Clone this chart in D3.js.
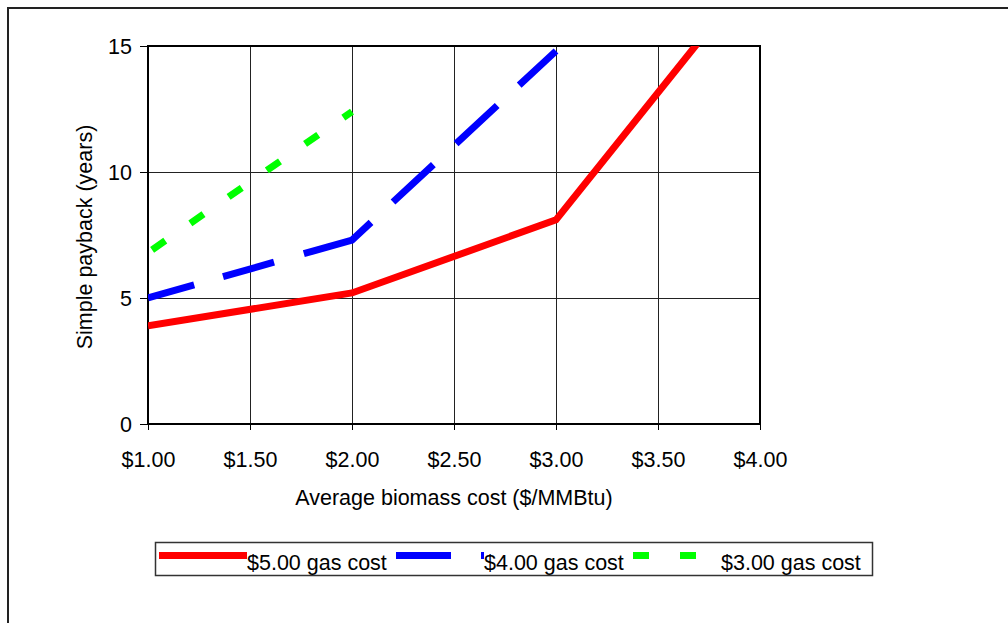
<!DOCTYPE html>
<html>
<head>
<meta charset="utf-8">
<script src="https://cdn.jsdelivr.net/npm/d3@7"></script>
<style>
  html, body { margin: 0; padding: 0; background: #fff; }
  svg { display: block; font-family: "Liberation Sans", Arial, sans-serif; }
</style>
</head>
<body>
<svg id="chart" width="1008" height="623"></svg>
<script>
// Biomass cost on the x axis, payback years per gas-cost scenario
const costs = [1.00, 2.00, 3.00, 4.00];
const gas5 = [3.9, 5.2, 8.1, 18.2];
const gas4 = [5.0, 7.3, 14.8, null];
const gas3 = [6.8, 12.4, null, null];

const xTicks = [1.00, 1.50, 2.00, 2.50, 3.00, 3.50, 4.00];
const yTicks = [0, 5, 10, 15];

const seriesNames = ["$5.00 gas cost", "$4.00 gas cost", "$3.00 gas cost"];
const seriesValues = [gas5, gas4, gas3];
const seriesColors = ["#ff0000", "#0000ff", "#00ff00"];
// dash layouts: red solid, blue long dashes, green short dashes
const seriesDash = [null, "48,30,53,31,76,30,55,31,56,30,60,30", "16,30.5"];
const seriesDashOffset = [0, 0, 41.5];
const legendDash = [null, "55,30", "16,31"];

const fontSize = "21.5px";

const svg = d3.select("#chart");
const plotLeft = 148, plotRight = 760, plotTop = 46, plotBottom = 424;

const x = d3.scaleLinear().domain([1, 4]).range([plotLeft, plotRight]);
const y = d3.scaleLinear().domain([0, 15]).range([plotBottom, plotTop]);

// outer chart frame
svg.append("rect")
  .attr("x", 8).attr("y", 8).attr("width", 1100).attr("height", 700)
  .attr("fill", "none").attr("stroke", "#222").attr("stroke-width", 2);

// gridlines
const grid = svg.append("g").attr("shape-rendering", "crispEdges");
grid.selectAll("line.v").data(xTicks.slice(1, -1)).join("line")
  .attr("class", "v")
  .attr("x1", d => x(d)).attr("x2", d => x(d))
  .attr("y1", plotTop).attr("y2", plotBottom)
  .attr("stroke", "#222").attr("stroke-width", 1);
grid.selectAll("line.h").data(yTicks.slice(1, -1)).join("line")
  .attr("class", "h")
  .attr("x1", plotLeft).attr("x2", plotRight)
  .attr("y1", d => y(d)).attr("y2", d => y(d))
  .attr("stroke", "#222").attr("stroke-width", 1);

// axes
const yAxis = svg.append("g")
  .attr("transform", `translate(${plotLeft},0)`)
  .call(d3.axisLeft(y).tickValues(yTicks).tickSize(8).tickPadding(8).tickFormat(d3.format("d")));
const xAxis = svg.append("g")
  .attr("transform", `translate(0,${plotBottom})`)
  .call(d3.axisBottom(x).tickValues(xTicks).tickSize(6).tickFormat(d => "$" + d.toFixed(2)));

[yAxis, xAxis].forEach(g => {
  g.select(".domain").remove();
  g.selectAll(".tick line").attr("stroke", "#000").attr("stroke-width", 1);
  g.selectAll("text").attr("fill", "#000")
    .style("font-size", fontSize).style("font-family", "'Liberation Sans', Arial, sans-serif");
});
yAxis.selectAll("text").attr("dy", "0.35em");
xAxis.selectAll("text").attr("y", 43).attr("dy", 0);

// plot area border
svg.append("rect")
  .attr("x", plotLeft).attr("y", plotTop).attr("width", plotRight - plotLeft).attr("height", plotBottom - plotTop)
  .attr("fill", "none").attr("stroke", "#000").attr("stroke-width", 2);

// series lines, clipped to the plot area
svg.append("clipPath").attr("id", "plotClip")
  .append("rect").attr("x", plotLeft).attr("y", plotTop).attr("width", plotRight - plotLeft).attr("height", plotBottom - plotTop);

const line = d3.line()
  .defined(d => d.v !== null)
  .x(d => x(d.c)).y(d => y(d.v));

const lines = svg.append("g").attr("clip-path", "url(#plotClip)");
seriesValues.forEach((vals, i) => {
  const pts = costs.map((c, j) => ({ c, v: vals[j] }));
  lines.append("path")
    .datum(pts)
    .attr("d", line)
    .attr("fill", "none")
    .attr("stroke", seriesColors[i])
    .attr("stroke-width", 7)
    .attr("stroke-linejoin", "miter")
    .attr("stroke-linecap", "butt")
    .attr("stroke-dasharray", seriesDash[i])
    .attr("stroke-dashoffset", seriesDashOffset[i]);
});

// axis titles
svg.append("text")
  .attr("x", (plotLeft + plotRight) / 2).attr("y", 505)
  .attr("text-anchor", "middle").style("font-size", fontSize)
  .text("Average biomass cost ($/MMBtu)");
svg.append("text")
  .attr("transform", `translate(92,${(plotTop + plotBottom) / 2 + 2}) rotate(-90)`)
  .attr("text-anchor", "middle").style("font-size", fontSize)
  .text("Simple payback (years)");

// legend
const legend = svg.append("g");
legend.append("rect")
  .attr("x", 155.5).attr("y", 542.5).attr("width", 717).attr("height", 33)
  .attr("fill", "#fff").attr("stroke", "#333").attr("stroke-width", 1.5);
seriesNames.forEach((name, i) => {
  const x0 = 159 + i * 237;
  legend.append("line")
    .attr("x1", x0).attr("x2", x0 + 88)
    .attr("y1", 555.5).attr("y2", 555.5)
    .attr("stroke", seriesColors[i]).attr("stroke-width", 7)
    .attr("stroke-dasharray", legendDash[i]);
  legend.append("text")
    .attr("x", x0 + 88).attr("y", 569.5)
    .style("font-size", fontSize)
    .text(name);
});
</script>
</body>
</html>
